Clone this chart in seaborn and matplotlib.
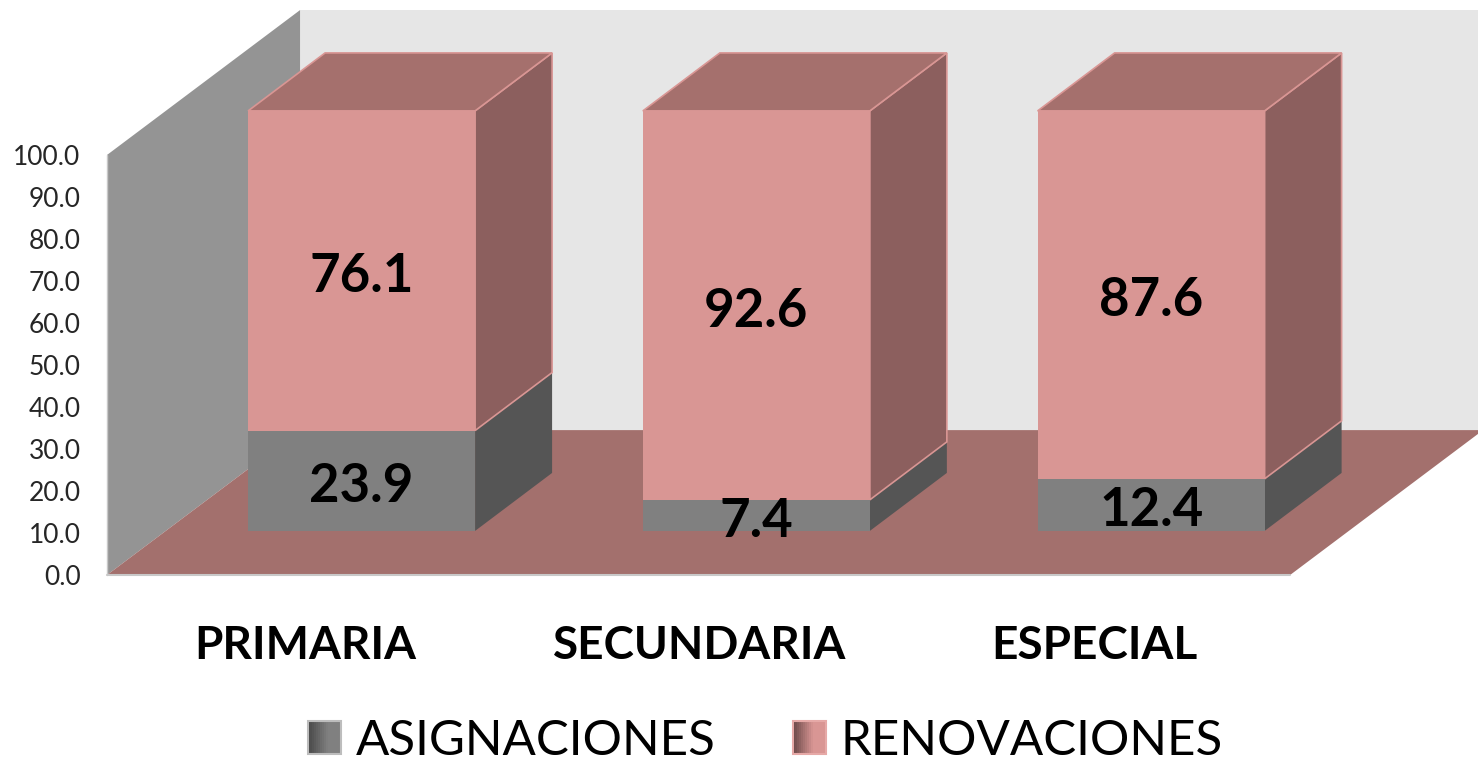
import matplotlib
matplotlib.use('Agg')
import matplotlib.pyplot as plt
import matplotlib.transforms as mtrans
from matplotlib.colors import to_rgb
from matplotlib.legend_handler import HandlerPatch
from matplotlib.patches import Patch, Polygon, Rectangle
import numpy as np
import pandas as pd
import seaborn as sns

categories = ['PRIMARIA', 'SECUNDARIA', 'ESPECIAL']
asignaciones = [23.9, 7.4, 12.4]
renovaciones = [76.1, 92.6, 87.6]
yticks = [0, 10, 20, 30, 40, 50, 60, 70, 80, 90, 100]

# scale of the picture: pixels per category / per y unit
PX_X = 394.75
PX_Y = 4.2
BASE = 10.5  # bars stand on the floor, above its front edge
BAR_W = 0.575
DEPTH_X, DEPTH_Y = 0.195, 13.8  # bar depth
ROOM_X, ROOM_Y = 0.489, 34.5  # room depth
X0, X1 = -0.645, 2.352  # floor front edge
XMAX = 2.828
YMAX = 136.9

sns.set_theme(style='white')
plt.rcParams['font.family'] = ['Lato', 'DejaVu Sans']

df = pd.DataFrame({'nivel': categories, 'asig': asignaciones, 'reno': renovaciones})

W, H = 1478, 760
fig = plt.figure(figsize=(W / 100, H / 100), dpi=100)
ax = fig.add_axes([107 / W, (H - 575) / H, (W - 107) / W, 575 / H])

# room
ax.add_patch(Polygon([(X0 + ROOM_X, ROOM_Y), (XMAX, ROOM_Y), (XMAX, 100 + ROOM_Y), (X0 + ROOM_X, 100 + ROOM_Y)],
                     fc='#E6E6E6', ec='none', zorder=0))
ax.add_patch(Polygon([(X0, 0), (X0 + ROOM_X, ROOM_Y), (X0 + ROOM_X, 100 + ROOM_Y), (X0, 100)],
                     fc='#949494', ec='none', zorder=0.5))
ax.add_patch(Polygon([(X0, 0), (X1, 0), (X1 + ROOM_X, ROOM_Y), (X0 + ROOM_X, ROOM_Y)],
                     fc='#A3706D', ec='none', zorder=0.6))

base = np.full(len(df), BASE)
sns.barplot(data=df, x='nivel', y='asig', color='#808080', saturation=1, width=BAR_W,
            bottom=base, linewidth=0, ax=ax, zorder=2)
sns.barplot(data=df, x='nivel', y='reno', color='#D99694', saturation=1, width=BAR_W,
            bottom=base + df['asig'].values, linewidth=0, ax=ax, zorder=2)

# side and top faces come from the bars themselves
new_bars = [p for p in ax.patches if isinstance(p, Rectangle)]
for i, bar in enumerate(new_bars):
    x0, w, y0, h = bar.get_x(), bar.get_width(), bar.get_y(), bar.get_height()
    x1, y1 = x0 + w, y0 + h
    grey = i < len(df)
    side = '#555555' if grey else '#8C5F5E'
    edge = 'none' if grey else '#D99694'
    ax.add_patch(Polygon([(x1, y0), (x1 + DEPTH_X, y0 + DEPTH_Y), (x1 + DEPTH_X, y1 + DEPTH_Y), (x1, y1)],
                         fc=side, ec=edge, lw=1.2, zorder=1.5))
    if not grey:
        ax.add_patch(Polygon([(x0, y1), (x1, y1), (x1 + DEPTH_X, y1 + DEPTH_Y), (x0 + DEPTH_X, y1 + DEPTH_Y)],
                             fc='#A5706D', ec=edge, lw=1.2, zorder=1.6))

# data labels
for i in range(len(df)):
    a, r = asignaciones[i], renovaciones[i]
    ax.text(i, BASE + a / 2 - 1.4, f'{a:.1f}', ha='center', va='center', fontsize=38,
            fontweight='bold', color='black', zorder=5)
    ax.text(i, BASE + a + r / 2 - 1.4, f'{r:.1f}', ha='center', va='center', fontsize=38,
            fontweight='bold', color='black', zorder=5)

ax.set_xlim(X0, XMAX)
ax.set_ylim(0, YMAX)
ax.set_xlabel('')
ax.set_ylabel('')
ax.set_yticks(yticks)
ax.set_yticklabels([f'{v:.1f}' for v in yticks], fontsize=19, color='#262626')
ax.tick_params(axis='y', length=0, pad=19)
ax.tick_params(axis='x', length=0, pad=36)
ax.set_xticks(range(len(categories)))
ax.set_xticklabels(categories, fontsize=33, fontweight='bold', color='black')
shift = mtrans.ScaledTranslation(-56.5 / 100, 0, fig.dpi_scale_trans)
for lab in ax.get_xticklabels():
    lab.set_transform(lab.get_transform() + shift)
for s in ax.spines.values():
    s.set_visible(False)
ax.plot([X0, X1], [0, 0], color='#C8C8C8', lw=1.5, zorder=1, clip_on=False)
ax.plot([X0, X0], [0, 100], color='#C8C8C8', lw=1, zorder=1, clip_on=False)


class GradientHandler(HandlerPatch):
    # legend swatch with the dark-to-light shading of the original
    def create_artists(self, legend, orig, xd, yd, width, height, fontsize, trans):
        c0, c1 = [np.array(to_rgb(c)) for c in orig.shades]
        arts = []
        n = 16
        for k in range(n):
            t = min(1, k / (n * 0.6))
            arts.append(Rectangle((-xd + width * k / n, -yd), width / n + 0.8, height,
                                  fc=c0 + (c1 - c0) * t, ec='none', transform=trans))
        arts.append(Rectangle((-xd, -yd), width + 0.5, height, fc='none', ec=orig.get_edgecolor(),
                              lw=1.5, transform=trans))
        return arts


h1 = Patch(edgecolor='#BDBDBD', label='ASIGNACIONES')
h1.shades = ('#4A4A4A', '#808080')
h2 = Patch(edgecolor='#E6A9A7', label='RENOVACIONES')
h2.shades = ('#6E4A4A', '#D99694')
fig.legend(handles=[h1, h2], loc='center', bbox_to_anchor=(765.5 / W, (H - 741) / H), ncol=2, frameon=False,
           fontsize=35.5, handlelength=0.66, handleheight=0.66, handletextpad=0.32, columnspacing=1.55,
           handler_map={Patch: GradientHandler()}, labelcolor='black')

fig.savefig('out.png', dpi=100, facecolor='white')
